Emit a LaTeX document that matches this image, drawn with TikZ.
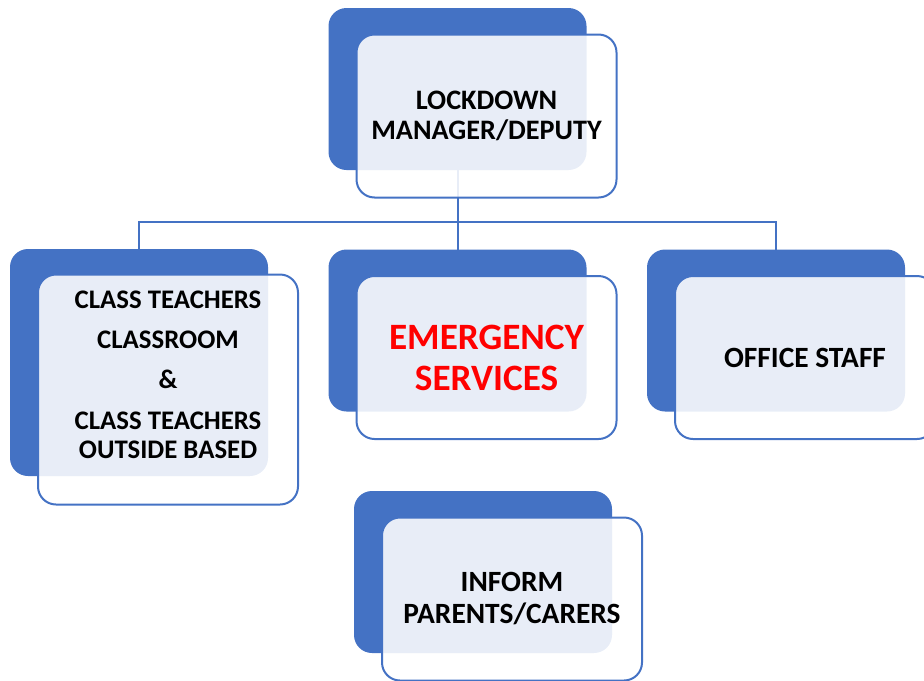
\documentclass[tikz,border=0pt]{standalone}
\usepackage{fontspec}
\setmainfont{Carlito}
\usetikzlibrary{shapes,positioning}
\definecolor{deepblue}{HTML}{4472C4}
\definecolor{alarm}{rgb}{1,0,0}

\begin{document}
\begin{tikzpicture}[x=0.5pt,y=-0.5pt,% pixel grid of the sheet, y runs down
			every node/.style={
				align=center,		% so that "\\" breaks the line
				inner sep=0pt,outer sep=0pt,
				font=\fontsize{14.7pt}{16pt}\selectfont\bfseries
			},
			back/.style={rectangle,rounded corners=9pt,fill=deepblue,minimum width=129pt,minimum height=81pt},
			front/.style={rectangle,rounded corners=9pt,draw=deepblue,line width=1pt,fill=white,fill opacity=0.88,text opacity=1,minimum width=130pt,minimum height=81.5pt,xshift=14.5pt,yshift=-13.5pt},
			link/.style={draw=deepblue,line width=1pt}
		]
		\clip (0,0) rectangle (924,680);
		% blue blocks behind
		\node[back](B1) at (457.5,89){};
		\node[back,minimum height=113.5pt](B2) at (139,362.5){};
		\node[back](B3) at (457.5,330.5){};
		\node[back](B4) at (776,330.5){};
		\node[back](B5) at (483,572){};
		% tree lines
		\coordinate (J) at (457.5,222);
		\draw[link] (B1.south) -- (J) -| (B2.north);
		\draw[link] (J) -| (B4.north);
		\draw[link] (J) -- (B3.north);
		% light blocks in front
		\node[front,font=\fontsize{14.1pt}{15pt}\selectfont\bfseries](F1) at (B1){LOCKDOWN\\MANAGER/DEPUTY};
		\node[front,minimum height=115pt,
			label={[name=T2,yshift=7.5pt,align=center,font=\fontsize{13.4pt}{14.5pt}\selectfont\bfseries]center:CLASS TEACHERS\\[5.8pt]CLASSROOM\\[5.3pt]\&\\[5.8pt]CLASS TEACHERS\\OUTSIDE BASED}](F2) at (B2){};
		\node[front,text=alarm,font=\fontsize{18.6pt}{20.5pt}\selectfont\bfseries](F3) at (B3){EMERGENCY\\SERVICES};
		\node[front](F4) at (B4){OFFICE STAFF};
		\node[front](F5) at (B5){INFORM\\PARENTS/CARERS};
	\end{tikzpicture}
\end{document}
